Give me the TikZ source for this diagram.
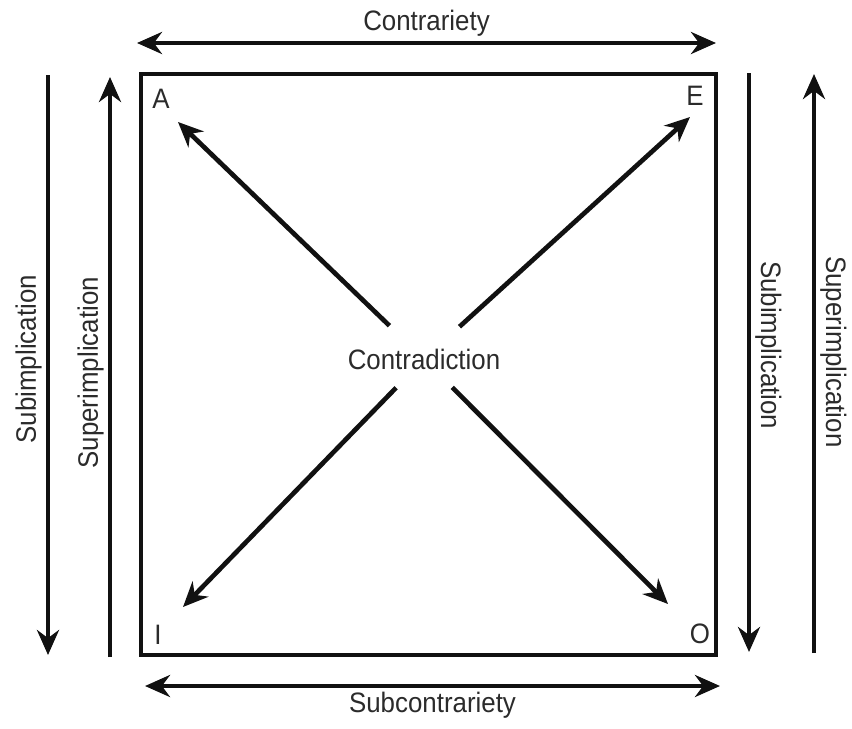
\documentclass[tikz,border=0pt]{standalone}
\usepackage{fontspec}
\setmainfont{Liberation Sans}[FakeStretch=0.92]
\usetikzlibrary{arrows.meta}
\definecolor{squareink}{HTML}{111111}
\definecolor{squaretext}{HTML}{2B2B2B}

\begin{document}
\begin{tikzpicture}[x=0.03cm,y=-0.03cm,
  frame/.style={draw=squareink,line width=2.8pt,inner sep=0pt,outer sep=0pt,
                minimum width=17.25cm,minimum height=17.43cm},
  lbl/.style={font=\fontsize{24}{28}\selectfont,text=squaretext},
  arr/.style={-{Stealth[length=7.5mm,width=6.6mm]},line width=4pt,squareink},
  dbl/.style={{Stealth[length=7.5mm,width=6.6mm]}-{Stealth[length=7.5mm,width=6.6mm]},
              line width=4pt,squareink}]

  \useasboundingbox (0,0) rectangle (852,728);

  % square of opposition
  \node[frame] (sq) at (428.5,364.5) {};
  \node[lbl] (ctr) at (424,359) {Contradiction};
  \node[lbl] (A) at (161,99) {A};
  \node[lbl] (E) at (695,96) {E};
  \node[lbl] (I) at (158,635) {I};
  \node[lbl] (O) at (700,634) {O};

  \coordinate (tipA) at (178,122);
  \coordinate (tipE) at (690,117);
  \coordinate (tipI) at (183,607);
  \coordinate (tipO) at (668,604);

  \draw[arr,shorten <=14.4mm] (ctr.center) -- (tipA);
  \draw[arr,shorten <=14.4mm] (ctr.center) -- (tipE);
  \draw[arr,shorten <=12mm] (ctr.center) -- (tipI);
  \draw[arr,shorten <=12mm] (ctr.center) -- (tipO);

  % outer relations
  \coordinate (ctL) at (137,43);
  \coordinate (ctR) at (716,43);
  \coordinate (scL) at (145,686);
  \coordinate (scR) at (720,686);
  \coordinate (lsubT) at (48,75);
  \coordinate (lsubB) at (48,655);
  \coordinate (lsupB) at (110,657);
  \coordinate (lsupT) at (110,77);
  \coordinate (rsubT) at (749,73);
  \coordinate (rsubB) at (749,652);
  \coordinate (rsupB) at (814,653);
  \coordinate (rsupT) at (814,74);

  \draw[dbl] (ctL) -- node[lbl,above] (contrariety) {Contrariety} (ctR);
  \draw[dbl] (scL) -- node[lbl,below] (subcontrariety) {Subcontrariety} (scR);
  \draw[arr] (lsubT) -- node[lbl,rotate=90,anchor=south,pos=0.49] (lsub) {Subimplication} (lsubB);
  \draw[arr] (lsupB) -- node[lbl,rotate=90,anchor=south,pos=0.49] (lsup) {Superimplication} (lsupT);
  \draw[arr] (rsubT) -- node[lbl,rotate=-90,anchor=south,pos=0.47] (rsub) {Subimplication} (rsubB);
  \draw[arr] (rsupB) -- node[lbl,rotate=-90,anchor=south,pos=0.52] (rsup) {Superimplication} (rsupT);
\end{tikzpicture}
\end{document}
